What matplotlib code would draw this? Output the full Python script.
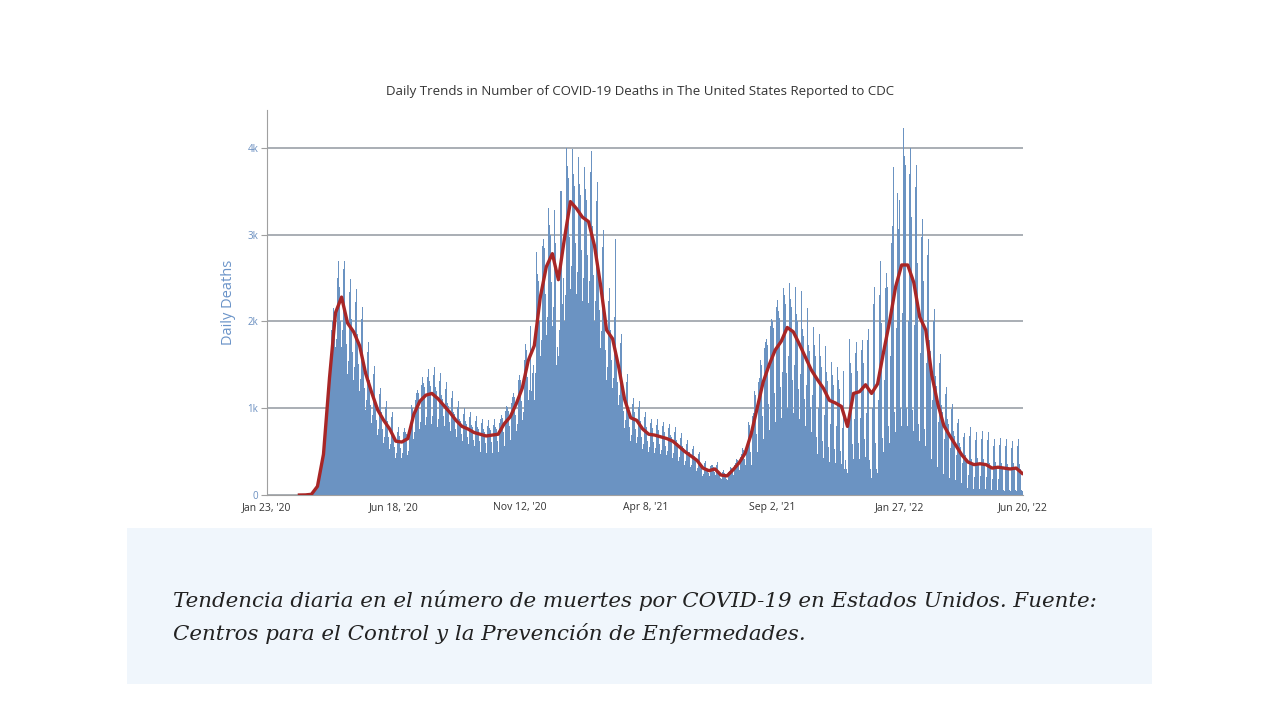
"""
Daily COVID-19 deaths in the US reported to CDC (bars) with the 7-day average (red line)
"""

import matplotlib
matplotlib.use("Agg")
import matplotlib.pyplot as plt
from matplotlib.patches import Rectangle
import pandas as pd


# daily deaths, one row per week, every row starts on a Thursday (first day: Jan 23, 2020)
daily_by_week = [
    [0, 0, 0, 0, 0, 0, 0],
    [0, 0, 0, 0, 0, 0, 0],
    [0, 0, 0, 0, 0, 0, 0],
    [0, 0, 0, 0, 0, 0, 0],
    [0, 0, 0, 0, 0, 0, 0],
    [0, 0, 0, 0, 0, 0, 0],
    [1, 1, 2, 2, 3, 4, 5],
    [4, 5, 7, 9, 14, 20, 28],
    [40, 60, 80, 100, 140, 200, 260],
    [250, 300, 380, 450, 550, 700, 850],
    [1000, 1150, 1250, 1300, 1500, 1900, 2000],
    [2100, 2150, 1900, 1700, 1800, 2500, 2700],
    [2500, 2400, 2000, 1700, 1900, 2600, 2700],
    [2220, 2140, 1740, 1390, 1540, 2340, 2490],
    [2110, 2030, 1650, 1320, 1470, 2220, 2370],
    [1930, 1860, 1510, 1200, 1340, 2030, 2170],
    [1570, 1510, 1230, 980, 1090, 1650, 1760],
    [1320, 1270, 1040, 830, 920, 1390, 1490],
    [1100, 1060, 860, 690, 760, 1160, 1230],
    [960, 930, 760, 600, 670, 1010, 1080],
    [850, 820, 670, 530, 590, 900, 960],
    [690, 670, 550, 430, 480, 730, 780],
    [680, 660, 540, 430, 480, 720, 770],
    [730, 700, 570, 460, 510, 770, 820],
    [1040, 1000, 820, 650, 730, 1100, 1170],
    [1210, 1170, 950, 760, 840, 1270, 1360],
    [1290, 1240, 1010, 810, 900, 1360, 1450],
    [1310, 1260, 1030, 820, 910, 1380, 1470],
    [1240, 1200, 980, 780, 870, 1310, 1400],
    [1150, 1110, 910, 720, 800, 1220, 1300],
    [1060, 1030, 840, 670, 740, 1120, 1200],
    [960, 930, 760, 600, 670, 1010, 1080],
    [880, 850, 700, 550, 620, 930, 1000],
    [850, 820, 670, 530, 590, 900, 960],
    [810, 780, 630, 500, 560, 850, 910],
    [780, 760, 620, 490, 550, 830, 880],
    [760, 730, 600, 480, 530, 800, 860],
    [770, 750, 610, 480, 540, 810, 870],
    [780, 760, 620, 490, 550, 830, 880],
    [920, 890, 720, 570, 640, 970, 1030],
    [1010, 970, 790, 630, 700, 1060, 1130],
    [1180, 1130, 920, 740, 820, 1240, 1320],
    [1380, 1330, 1080, 860, 960, 1450, 1550],
    [1740, 1670, 1360, 1090, 1210, 1830, 1950],
    [1200, 1400, 1500, 1100, 1400, 2700, 2800],
    [2550, 2460, 2010, 1600, 1780, 2690, 2870],
    [2950, 2840, 2310, 1840, 2050, 3100, 3310],
    [3110, 3000, 2450, 1950, 2170, 3280, 3500],
    [2900, 1500, 1700, 1600, 1900, 3500, 3600],
    [3500, 2200, 2500, 2000, 2300, 4000, 4100],
    [3790, 3650, 2970, 2370, 2640, 3990, 4060],
    [3700, 3560, 2900, 2310, 2570, 3890, 4090],
    [3580, 3460, 2820, 2240, 2500, 3780, 4000],
    [3530, 3400, 2770, 2210, 2460, 3720, 3960],
    [3210, 3100, 2530, 2010, 2240, 3390, 3610],
    [2710, 2610, 2130, 1690, 1890, 2860, 3050],
    [2130, 2050, 1670, 1330, 1480, 2240, 2390],
    [1950, 1900, 1550, 1230, 1350, 2050, 2950],
    [1660, 1600, 1300, 1040, 1150, 1750, 1860],
    [1230, 1190, 970, 770, 860, 1300, 1390],
    [1000, 960, 780, 620, 690, 1050, 1120],
    [960, 930, 760, 600, 670, 1010, 1080],
    [850, 820, 670, 530, 590, 900, 960],
    [780, 760, 620, 490, 550, 830, 880],
    [770, 750, 610, 480, 540, 810, 870],
    [750, 720, 590, 470, 520, 790, 840],
    [730, 700, 570, 460, 510, 770, 820],
    [690, 670, 550, 430, 480, 730, 780],
    [630, 600, 490, 390, 440, 660, 710],
    [560, 540, 440, 350, 390, 590, 630],
    [500, 490, 400, 320, 350, 530, 570],
    [450, 430, 350, 280, 310, 470, 500],
    [350, 330, 270, 220, 240, 370, 390],
    [310, 300, 250, 200, 220, 330, 350],
    [340, 320, 260, 210, 230, 350, 380],
    [260, 250, 200, 160, 180, 270, 290],
    [250, 240, 190, 150, 170, 260, 280],
    [320, 310, 260, 200, 230, 340, 370],
    [410, 400, 330, 260, 290, 440, 470],
    [540, 520, 420, 340, 370, 570, 600],
    [840, 810, 490, 350, 560, 910, 950],
    [1200, 1150, 700, 500, 800, 1300, 1350],
    [1560, 1500, 910, 650, 1040, 1690, 1760],
    [1800, 1730, 1050, 750, 1200, 1950, 2030],
    [2000, 1920, 1170, 840, 1340, 2170, 2250],
    [2120, 2040, 1240, 890, 1420, 2300, 2390],
    [2300, 2200, 1400, 1000, 1600, 2400, 2440],
    [2260, 2160, 1320, 940, 1500, 2440, 2400],
    [2090, 2000, 1220, 870, 1390, 2260, 2350],
    [1910, 1830, 1110, 800, 1270, 2070, 2150],
    [1730, 1660, 1010, 720, 1150, 1870, 1940],
    [1730, 1600, 670, 470, 1000, 1860, 2000],
    [1600, 1480, 620, 430, 920, 1720, 1850],
    [1420, 1310, 550, 380, 820, 1530, 1640],
    [1380, 1270, 530, 370, 800, 1480, 1590],
    [1330, 1220, 510, 360, 770, 1430, 1530],
    [300, 400, 300, 250, 800, 1800, 1700],
    [1520, 1400, 590, 410, 880, 1640, 1760],
    [1550, 1430, 600, 420, 890, 1670, 1790],
    [1650, 1520, 640, 440, 950, 1780, 1910],
    [1700, 400, 300, 200, 1000, 2200, 2400],
    [1700, 600, 300, 250, 1100, 2300, 2700],
    [2150, 1980, 660, 500, 1320, 2390, 2560],
    [2600, 2400, 800, 600, 1600, 2900, 3100],
    [3780, 2880, 960, 720, 1920, 3480, 3060],
    [3400, 3100, 1000, 800, 2100, 4230, 3900],
    [3800, 3200, 1000, 800, 2000, 3700, 4000],
    [3200, 2900, 980, 740, 1960, 3550, 3800],
    [2670, 2460, 820, 620, 1640, 2970, 3180],
    [2470, 2280, 760, 570, 1520, 2760, 2950],
    [1790, 1660, 550, 410, 1100, 2000, 2140],
    [1370, 1260, 420, 320, 840, 1520, 1630],
    [1040, 960, 320, 240, 640, 1160, 1240],
    [880, 820, 270, 200, 540, 990, 1050],
    [740, 680, 230, 170, 460, 830, 880],
    [600, 550, 180, 140, 370, 670, 710],
    [460, 380, 80, 60, 230, 680, 780],
    [420, 350, 70, 50, 210, 630, 720],
    [430, 360, 70, 50, 220, 650, 740],
    [420, 350, 70, 50, 210, 630, 720],
    [370, 310, 60, 50, 190, 560, 640],
    [380, 320, 60, 50, 190, 580, 660],
    [370, 310, 60, 50, 190, 560, 640],
    [360, 300, 60, 50, 180, 540, 620],
    [370, 310, 60, 50, 190, 560, 640],
    [360, 300, 60, 50, 180],
]

# 7-day moving average, one value per week starting Mar 1, 2020
avg_7day = [
    0, 1, 8, 100, 470, 1350, 2100, 2280, 1980, 1880,
    1720, 1400, 1180, 980, 860, 760, 620, 610, 650, 930,
    1080, 1150, 1170, 1110, 1030, 950, 860, 790, 760, 720,
    700, 680, 690, 700, 820, 900, 1050, 1230, 1550, 1720,
    2280, 2630, 2780, 2480, 2950, 3380, 3300, 3200, 3150, 2870,
    2420, 1900, 1800, 1480, 1100, 890, 860, 760, 700, 690,
    670, 650, 620, 560, 500, 450, 400, 310, 280, 300,
    230, 220, 290, 370, 480, 700, 1000, 1300, 1500, 1670,
    1770, 1930, 1880, 1740, 1590, 1440, 1330, 1230, 1090, 1060,
    1020, 790, 1170, 1190, 1270, 1170, 1280, 1650, 2000, 2400,
    2650, 2650, 2450, 2050, 1900, 1380, 1050, 800, 680, 570,
    460, 380, 350, 360, 350, 310, 320, 310, 300, 310,
    250,
]

tick_dates = ["2020-01-23", "2020-06-18", "2020-11-12", "2021-04-08",
              "2021-09-02", "2022-01-27", "2022-06-20"]
tick_labels = ["Jan 23, '20", "Jun 18, '20", "Nov 12, '20", "Apr 8, '21",
               "Sep 2, '21", "Jan 27, '22", "Jun 20, '22"]
y_ticks = [0, 1000, 2000, 3000, 4000]
y_labels = ["0", "1k", "2k", "3k", "4k"]

title = "Daily Trends in Number of COVID-19 Deaths in The United States Reported to CDC"
caption = ["Tendencia diaria en el número de muertes por COVID-19 en Estados Unidos. Fuente:",
           "Centros para el Control y la Prevención de Enfermedades."]


daily_deaths = [v for week in daily_by_week for v in week]
days = pd.date_range("2020-01-23", periods=len(daily_deaths), freq="D")
avg_days = pd.date_range("2020-03-01", periods=len(avg_7day), freq="7D")

plt.rcParams["font.family"] = ["Open Sans", "DejaVu Sans"]

fig = plt.figure(figsize=(12.8, 7.2), dpi=100)
fig.patch.set_facecolor("white")

# caption box below the chart
fig.patches.append(Rectangle((127 / 1280, 1 - 684 / 720), (1152 - 127) / 1280, 156 / 720,
                             transform=fig.transFigure, facecolor="#f0f6fc", edgecolor="none"))

ax = fig.add_axes([266.7 / 1280, 1 - 495 / 720, (1023 - 266.7) / 1280, 385 / 720])
ax.bar(days, daily_deaths, width=1.0, color="#6b93c2", linewidth=0, zorder=2)
ax.plot(avg_days, avg_7day, color="#a82626", lw=2.4, zorder=4, solid_joinstyle="round")

ax.set_xlim(pd.Timestamp("2020-01-23"), pd.Timestamp("2022-06-20"))
ax.set_ylim(0, 4435)
ax.set_xticks(pd.to_datetime(tick_dates))
ax.set_xticklabels(tick_labels)
ax.set_yticks(y_ticks)
ax.set_yticklabels(y_labels)
# grid lines show through the bars in the original
ax.yaxis.grid(True, color="#7f8790", lw=1.1, alpha=0.85, zorder=3)

for side in ["top", "right"]:
    ax.spines[side].set_visible(False)
ax.spines["left"].set_color("#a0a0a0")
ax.spines["bottom"].set_color("#a0a0a0")

ax.tick_params(axis="x", labelsize=7.5, colors="#333333", length=0, pad=5)
ax.tick_params(axis="y", labelsize=7, labelcolor="#6a8fc0", color="#a0a0a0", length=4, pad=2)
ax.set_ylabel("Daily Deaths", fontsize=10.5, color="#6a93c8", labelpad=8)

fig.text(0.5, 1 - 92 / 720, title, ha="center", va="center", fontsize=9.5, color="#333333")

# caption, sized so the first line spans the same width as the original
cap1 = fig.text(173 / 1280, 1 - 607 / 720, caption[0], ha="left", va="baseline",
                family="DejaVu Serif", style="italic", fontsize=15, color="#222222")
fig.canvas.draw()
w = cap1.get_window_extent().width
fs = 15 * 927 / w
cap1.set_fontsize(fs)
fig.text(173 / 1280, 1 - 640 / 720, caption[1], ha="left", va="baseline",
         family="DejaVu Serif", style="italic", fontsize=fs, color="#222222")

fig.savefig("out.png", dpi=100)
